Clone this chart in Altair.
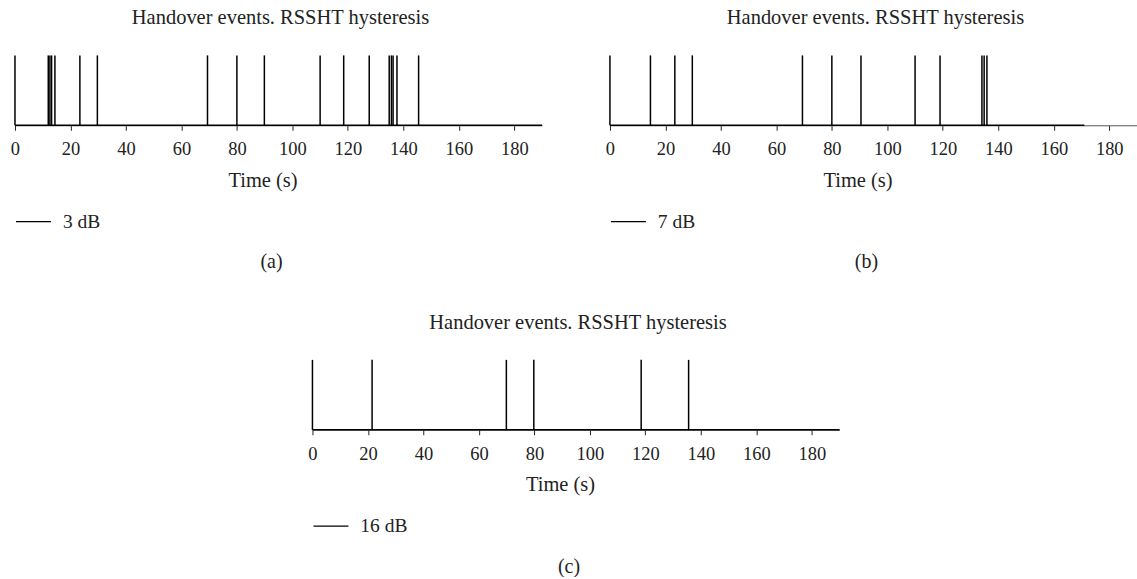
import altair as alt
import pandas as pd

FONT = "Liberation Serif"
TEXT_COLOR = "#222222"

PANEL_TITLE = "Handover events. RSSHT hysteresis"
X_TITLE = "Time (s)"
X_TICKS = [0, 20, 40, 60, 80, 100, 120, 140, 160, 180]
X_MAX = 190

# handover event times (s)
events_a = [0, 12.0, 12.6, 13.2, 14.4, 23.4, 29.7, 69.4, 80.0, 89.9,
            110.0, 118.5, 127.7, 134.9, 135.7, 136.3, 137.7, 145.5]
events_b = [0, 14.6, 23.4, 29.7, 69.4, 80.0, 90.5, 110.0, 119.0,
            134.1, 134.9, 135.9]
events_c = [0, 21.5, 69.9, 79.8, 118.5, 135.6]

# end time of each recorded signal (s)
end_a, end_b, end_c = 190, 171, 190

series_a, series_b, series_c = "3 dB", "7 dB", "16 dB"
tag_a, tag_b, tag_c = "(a)", "(b)", "(c)"

W, H = 528, 70


def panel(events, end, series, tag):
    spikes = pd.DataFrame({"t": events, "lo": [0] * len(events),
                           "hi": [1] * len(events),
                           "series": [series] * len(events)})
    base = pd.DataFrame({"t": [0], "t_end": [end], "lo": [0]})
    tags = pd.DataFrame({"tag": [tag]})

    xscale = alt.Scale(domain=[0, X_MAX], nice=False, zero=False)
    x = alt.X("t:Q", scale=xscale,
              axis=alt.Axis(values=X_TICKS, title=X_TITLE, format="d"))
    y = alt.Y("lo:Q", scale=alt.Scale(domain=[0, 1]), axis=None)

    base_layer = alt.Chart(base).mark_rule(strokeWidth=1.6, color="black").encode(
        x=x, x2="t_end:Q", y=y)
    spike_layer = alt.Chart(spikes).mark_rule(strokeWidth=1.5).encode(
        x=x, y=y, y2="hi:Q",
        color=alt.Color("series:N", scale=alt.Scale(range=["black"]),
                        legend=alt.Legend(
                            title=None, orient="none", legendX=0, legendY=148,
                            symbolType="stroke", symbolSize=1225,
                            symbolStrokeWidth=1.2, labelOffset=11,
                            labelFont=FONT, labelFontSize=19.5,
                            labelColor=TEXT_COLOR, padding=0)))
    tag_layer = alt.Chart(tags).mark_text(
        font=FONT, fontSize=20, color=TEXT_COLOR, align="center",
        baseline="alphabetic").encode(
        text="tag:N", x=alt.value(257), y=alt.value(213))

    return alt.layer(base_layer, spike_layer, tag_layer).properties(
        width=W, height=H,
        title=alt.Title(PANEL_TITLE, font=FONT, fontSize=20.5,
                        fontWeight="normal", color=TEXT_COLOR,
                        baseline="alphabetic", offset=10, frame="group",
                        dx=2))


pa = panel(events_a, end_a, series_a, tag_a)
pb = panel(events_b, end_b, series_b, tag_b)
pc = panel(events_c, end_c, series_c, tag_c)

spacer = alt.Chart(pd.DataFrame({"v": [0]})).mark_rect(opacity=0).encode(
    x=alt.value(0), x2=alt.value(293), y=alt.value(0), y2=alt.value(H)
).properties(width=293, height=H)

row1 = alt.hconcat(pa, pb, spacing=62).resolve_scale(
    color="independent").resolve_legend(color="independent")
row2 = alt.hconcat(spacer, pc, spacing=0).resolve_scale(
    color="independent").resolve_legend(color="independent")

chart = alt.vconcat(row1, row2, spacing=40).resolve_scale(
    color="independent").resolve_legend(color="independent").properties(
    padding={"left": 10, "top": 7, "right": 0, "bottom": 0}
).configure_view(stroke=None).configure_axis(
    grid=False, labelFont=FONT, labelFontSize=18.5, labelColor=TEXT_COLOR,
    labelFlush=False, labelPadding=9.4, tickSize=5, tickColor=TEXT_COLOR,
    tickWidth=1, domainColor="#555555", domainWidth=1,
    titleFont=FONT, titleFontSize=20.5, titleFontWeight="normal",
    titleColor=TEXT_COLOR, titleY=61, titleX=248, titleBaseline="alphabetic",
    titleAlign="center"
)

chart.save("out.html", embed_options={"renderer": "svg", "actions": False})
